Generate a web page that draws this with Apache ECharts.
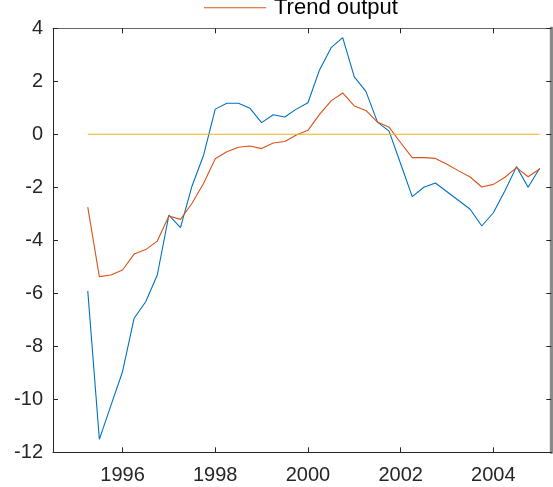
<!DOCTYPE html>
<html>
<head>
<meta charset="utf-8">
<script src="https://cdn.jsdelivr.net/npm/echarts@6/dist/echarts.min.js"></script>
<style>
  html, body { margin: 0; padding: 0; background: #fff; }
  #chart { width: 553px; height: 487px; }
</style>
</head>
<body>
<div id="chart"></div>
<script>
// Quarterly time index (year + fraction)
const quarters = [
  1995.25, 1995.5, 1995.75, 1996.0, 1996.25, 1996.5, 1996.75, 1997.0,
  1997.25, 1997.5, 1997.75, 1998.0, 1998.25, 1998.5, 1998.75, 1999.0,
  1999.25, 1999.5, 1999.75, 2000.0, 2000.25, 2000.5, 2000.75, 2001.0,
  2001.25, 2001.5, 2001.75, 2002.0, 2002.25, 2002.5, 2002.75, 2003.0,
  2003.25, 2003.5, 2003.75, 2004.0, 2004.25, 2004.5, 2004.75, 2005.0
];

// Observed output deviation
const observed = [
  -5.91, -11.51, -10.23, -8.96, -6.94, -6.32, -5.31, -3.05,
  -3.52, -1.95, -0.78, 0.95, 1.17, 1.17, 0.98, 0.44,
  0.74, 0.65, 0.95, 1.19, 2.43, 3.27, 3.65, 2.17,
  1.62, 0.46, 0.12, -1.11, -2.35, -2.0, -1.84, -2.17,
  -2.50, -2.83, -3.46, -2.96, -2.13, -1.22, -2.00, -1.28
];

// Trend output
const trend = [
  -2.75, -5.37, -5.31, -5.12, -4.52, -4.35, -4.03, -3.08,
  -3.21, -2.60, -1.85, -0.92, -0.66, -0.49, -0.44, -0.54,
  -0.33, -0.27, -0.03, 0.15, 0.75, 1.26, 1.56, 1.07,
  0.90, 0.46, 0.27, -0.32, -0.88, -0.88, -0.91, -1.13,
  -1.38, -1.61, -1.99, -1.89, -1.62, -1.26, -1.60, -1.31
];

// Zero reference line
const baseline = [
  0, 0, 0, 0, 0, 0, 0, 0, 0, 0, 0, 0, 0, 0, 0, 0, 0, 0, 0, 0,
  0, 0, 0, 0, 0, 0, 0, 0, 0, 0, 0, 0, 0, 0, 0, 0, 0, 0, 0, 0
];

const yearTicks = [1996, 1998, 2000, 2002, 2004];

const pair = (ys) => quarters.map((q, i) => [q, ys[i]]);

const FONT = '"Liberation Sans", Arial, Helvetica, sans-serif';
const AXIS_COLOR = '#262626';

const chart = echarts.init(document.getElementById('chart'), null, { renderer: 'canvas' });

const xCommon = {
  type: 'value',
  min: 1994.5,
  max: 2005.25,
  splitLine: { show: false },
  axisLine: { show: true, onZero: false, lineStyle: { color: AXIS_COLOR, width: 1 } },
  axisTick: { show: true, inside: true, length: 5, customValues: yearTicks, lineStyle: { color: AXIS_COLOR } }
};

chart.setOption({
  animation: false,
  backgroundColor: '#ffffff',
  textStyle: { fontFamily: FONT },
  grid: { left: 53, right: 1.7, top: 28.3, bottom: 34.7, containLabel: false },
  legend: {
    data: ['Trend output'],
    left: 199,
    top: -8.3,
    itemWidth: 62,
    itemHeight: 1,
    itemGap: 10,
    icon: 'rect',
    textStyle: { fontFamily: FONT, fontSize: 22, color: '#000', padding: [6, 0, 0, 3] }
  },
  xAxis: [
    Object.assign({}, xCommon, {
      position: 'bottom',
      axisLabel: {
        show: true, customValues: yearTicks, margin: 13,
        fontFamily: FONT, fontSize: 20, color: AXIS_COLOR,
        formatter: (v) => String(v)
      }
    }),
    Object.assign({}, xCommon, {
      position: 'top',
      axisLine: { show: true, onZero: false, lineStyle: { color: '#666', width: 1 } },
      axisLabel: { show: false }
    })
  ],
  yAxis: [
    {
      type: 'value', min: -12, max: 4, interval: 2, position: 'left',
      splitLine: { show: false },
      axisLine: { show: true, onZero: false, lineStyle: { color: AXIS_COLOR, width: 1 } },
      axisTick: { show: true, inside: true, length: 5, lineStyle: { color: AXIS_COLOR } },
      axisLabel: { margin: 10, fontFamily: FONT, fontSize: 20, color: AXIS_COLOR }
    },
    {
      type: 'value', min: -12, max: 4, interval: 2, position: 'right',
      splitLine: { show: false },
      axisLine: { show: true, onZero: false, lineStyle: { color: '#8a8a8a', width: 3.4 } },
      axisTick: { show: true, inside: true, length: 5, lineStyle: { color: AXIS_COLOR } },
      axisLabel: { show: false }
    }
  ],
  series: [
    {
      name: 'Observed output', type: 'line', data: pair(observed),
      xAxisIndex: 0, yAxisIndex: 0,
      showSymbol: false, symbol: 'none',
      lineStyle: { color: '#0072BD', width: 1.1 }, itemStyle: { color: '#0072BD' }
    },
    {
      name: 'Trend output', type: 'line', data: pair(trend),
      xAxisIndex: 0, yAxisIndex: 0,
      showSymbol: false, symbol: 'none',
      lineStyle: { color: '#D95319', width: 1.1 }, itemStyle: { color: '#D95319' }
    },
    {
      name: 'Zero', type: 'line', data: pair(baseline),
      xAxisIndex: 0, yAxisIndex: 0,
      showSymbol: false, symbol: 'none',
      lineStyle: { color: '#EDB120', width: 1.1 }, itemStyle: { color: '#EDB120' }
    }
  ]
});
</script>
</body>
</html>
